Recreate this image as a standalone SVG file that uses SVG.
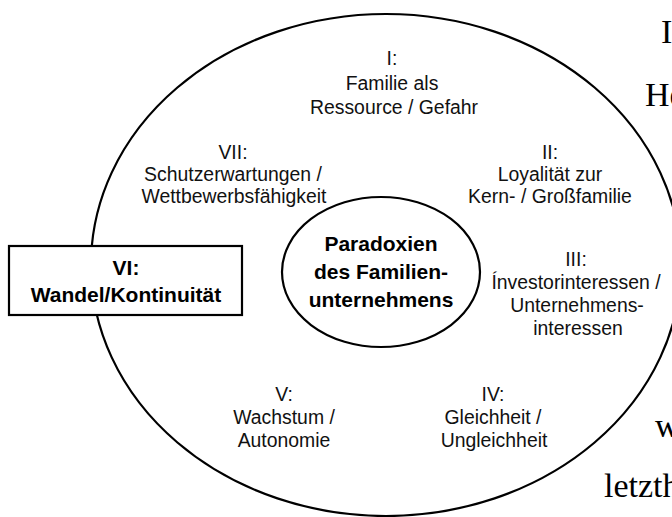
<svg xmlns="http://www.w3.org/2000/svg" width="672" height="517" viewBox="0 0 672 517">
<style>
.t{font-family:"Liberation Sans",Arial,sans-serif;font-size:19.4px;text-anchor:middle;fill:#111}
.b{font-family:"Liberation Sans",Arial,sans-serif;font-size:21px;font-weight:bold;text-anchor:middle;fill:#000}
.s{font-family:"Liberation Serif","Times New Roman",serif;font-size:34px;fill:#000}
.o{fill:none;stroke:#000;stroke-width:2.2}
</style>
<rect width="672" height="517" fill="#fff"/>
<g id="bg"><text class="s" x="661" y="43">I</text><text class="s" x="645" y="106">He</text><text class="s" x="655" y="437">w</text><text class="s" x="604" y="497">letzth</text></g>
<g id="outer"><ellipse class="o" cx="386" cy="265" rx="295" ry="251"/></g>
<g id="center"><ellipse class="o" cx="381" cy="272" rx="99" ry="75"/>
<text class="b" x="381" y="251">Paradoxien</text>
<text class="b" x="381" y="279">des Familien-</text>
<text class="b" x="381" y="307">unternehmens</text></g>
<g id="p1"><text class="t" x="392" y="65">I:</text><text class="t" x="392" y="90">Familie als</text><text class="t" x="394" y="114">Ressource / Gefahr</text></g>
<g id="p7"><text class="t" x="233" y="159">VII:</text><text class="t" x="233" y="181">Schutzerwartungen /</text><text class="t" x="234" y="203">Wettbewerbsfähigkeit</text></g>
<g id="p2"><text class="t" x="550" y="159">II:</text><text class="t" x="550" y="181">Loyalität zur</text><text class="t" x="550" y="203">Kern- / Großfamilie</text></g>
<g id="p3"><text class="t" x="576" y="266">III:</text><text class="t" x="576" y="289">Ínvestorinteressen /</text><text class="t" x="577" y="312">Unternehmens-</text><text class="t" x="578" y="335">interessen</text></g>
<g id="p4"><text class="t" x="493" y="401">IV:</text><text class="t" x="493" y="424">Gleichheit /</text><text class="t" x="494" y="447">Ungleichheit</text></g>
<g id="p5"><text class="t" x="284" y="401">V:</text><text class="t" x="284" y="424">Wachstum /</text><text class="t" x="284" y="447">Autonomie</text></g>
<g id="p6"><rect x="9" y="246" width="233" height="69" fill="#fff" stroke="#000" stroke-width="2.2"/>
<text class="b" x="126" y="275">VI:</text><text class="b" x="126" y="302">Wandel/Kontinuität</text></g>
</svg>
